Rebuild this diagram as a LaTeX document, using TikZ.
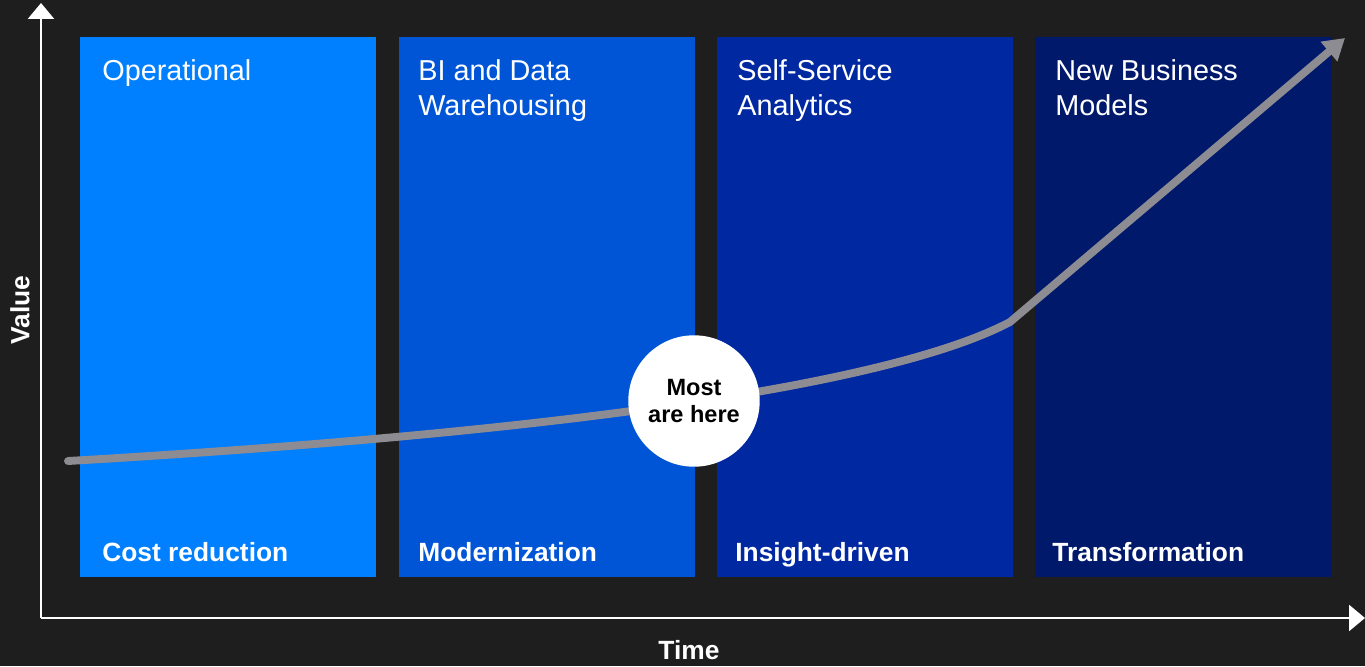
\documentclass[tikz,border=0pt]{standalone}
\usepackage{fontspec}
\setmainfont{Liberation Sans}
\usetikzlibrary{arrows.meta}
\definecolor{bgdark}{RGB}{30,30,30}
\definecolor{phaseA}{RGB}{0,127,255}
\definecolor{phaseB}{RGB}{0,85,214}
\definecolor{phaseC}{RGB}{0,40,160}
\definecolor{phaseD}{RGB}{0,25,107}
\definecolor{trendgray}{RGB}{140,140,146}
\begin{document}
\begin{tikzpicture}[x=0.02cm,y=-0.02cm,line join=round,
    axis/.style={draw=white,line width=1.1pt,-{Triangle[width=14.7pt,length=9pt]}},
    axislabel/.style={text=white,inner sep=0pt,font=\bfseries\fontsize{15}{18}\selectfont},
    phase/.style={anchor=north west,inner sep=0pt,text=white,align=left,font=\fontsize{16.4}{19.8}\selectfont},
    goal/.style={anchor=base west,inner sep=0pt,text=white,font=\bfseries\fontsize{15}{18}\selectfont},
    trend/.style={draw=trendgray,line width=4.5pt,line cap=round,-{Triangle[width=14pt,length=12pt]}},
    hub/.style={circle,fill=white,minimum size=74.8pt,inner sep=0pt,align=center,font=\bfseries\fontsize{13.4}{15.5}\selectfont}]
        \useasboundingbox (0,0) rectangle (1365,666);
        \fill[bgdark] (0,0) rectangle (1365,666);

        % the four stages
        \fill[phaseA] (80,37) rectangle (376,577);
        \fill[phaseB] (399,37) rectangle (695,577);
        \fill[phaseC] (717,37) rectangle (1013,577);
        \fill[phaseD] (1035,37) rectangle (1332,577);

        \node[phase] (opname) at (102,59) {Operational};
        \node[phase] (biname) at (418,59) {BI and Data\\Warehousing};
        \node[phase] (ssname) at (737,59) {Self-Service\\Analytics};
        \node[phase] (nbname) at (1055,59) {New Business\\Models};

        \node[goal] (cost) at (102,561) {Cost reduction};
        \node[goal] (modern) at (418,561) {Modernization};
        \node[goal] (insight) at (735,561) {Insight-driven};
        \node[goal] (transform) at (1052,561) {Transformation};

        % axes
        \coordinate (O) at (41,618);
        \coordinate (Y) at (41,3);
        \coordinate (X) at (1365,618);
        \draw[axis] (O)--(Y);
        \draw[axis] (O)--(X);
        \node[axislabel,rotate=90] (value) at (20,310) {Value};
        \node[axislabel] (time) at (689,650) {Time};

        % value curve
        \coordinate (S) at (68,461);
        \coordinate (K) at (1010,322);
        \coordinate (T) at (1345,38);
        \draw[trend] (S) .. controls (600,430) and (900,380) .. (K) -- (T);

        \node[hub] (most) at (694,401) {Most\\are here};
\end{tikzpicture}
\end{document}
